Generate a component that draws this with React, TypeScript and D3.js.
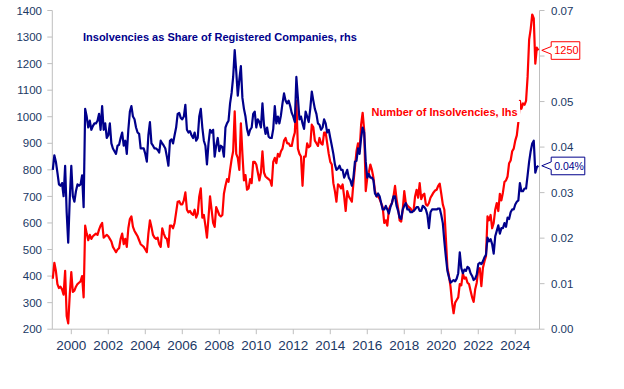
import React from 'react';
import * as d3 from 'd3';

// monthly series, first value = Jan 1999
const startYear = 1999;

// Number of insolvencies (lhs)
const insolvencies = [
  390, 450, 420, 370, 355, 360, 350, 330, 420, 250, 222, 330, // 1999
  415, 340, 345, 360, 370, 375, 380, 400, 320, 590, 560, 535, // 2000
  555, 540, 550, 555, 560, 555, 575, 590, 600, 545, 550, 555, // 2001
  550, 540, 530, 510, 500, 490, 500, 505, 540, 560, 520, 540, // 2002
  510, 580, 615, 625, 585, 570, 560, 550, 535, 520, 515, 510, // 2003
  500, 490, 560, 610, 585, 555, 545, 540, 545, 520, 510, 580, // 2004
  560, 545, 540, 510, 590, 590, 580, 600, 640, 680, 682, 670, // 2005
  670, 685, 715, 650, 640, 645, 635, 630, 650, 620, 635, 700, // 2006
  730, 620, 630, 590, 545, 620, 700, 650, 600, 585, 660, 645, // 2007
  630, 625, 630, 710, 740, 765, 755, 800, 840, 870, 1020, 860, // 2008
  845, 800, 975, 860, 760, 780, 725, 730, 765, 750, 830, 830, // 2009
  820, 790, 760, 790, 870, 790, 775, 770, 765, 760, 740, 830, // 2010
  845, 825, 860, 850, 870, 880, 910, 920, 900, 900, 890, 890, // 2011
  920, 940, 1060, 880, 860, 850, 740, 850, 850, 900, 885, 890, // 2012
  970, 960, 910, 900, 890, 920, 900, 895, 940, 940, 900, 860, // 2013
  830, 820, 750, 720, 680, 745, 740, 730, 745, 700, 645, 720, // 2014
  700, 690, 680, 750, 810, 870, 900, 870, 970, 1015, 950, 720, // 2015
  770, 790, 820, 800, 770, 720, 700, 700, 690, 675, 660, 600, // 2016
  610, 590, 650, 665, 675, 700, 740, 690, 655, 610, 605, 650, // 2017
  720, 675, 665, 660, 655, 645, 645, 700, 725, 695, 750, 690, // 2018
  705, 710, 670, 665, 675, 695, 705, 715, 722, 725, 740, 748, // 2019
  710, 670, 650, 540, 430, 400, 360, 300, 260, 300, 310, 320, // 2020
  370, 365, 410, 390, 395, 375, 370, 345, 320, 303, 350, 375, // 2021
  425, 430, 362, 430, 455, 475, 625, 610, 630, 580, 600, 650, // 2022
  675, 645, 710, 685, 715, 755, 760, 775, 825, 835, 870, 880, // 2023
  910, 930, 980, 1060, 1030, 1050, 1045, 1060, 1150, 1290, 1330, 1385, // 2024
  1370, 1200, 1260, 1250, // 2025
];

// Insolvencies as share of registered companies (rhs)
const share = [
  0.0350, 0.0382, 0.0368, 0.0344, 0.0318, 0.0315, 0.0321, 0.0292, 0.0359, 0.0257, 0.0190, 0.0286, // 1999
  0.0359, 0.0292, 0.0280, 0.0303, 0.0318, 0.0315, 0.0318, 0.0338, 0.0268, 0.0484, 0.0467, 0.0443, // 2000
  0.0458, 0.0438, 0.0446, 0.0452, 0.0452, 0.0458, 0.0473, 0.0438, 0.0490, 0.0438, 0.0452, 0.0420, // 2001
  0.0426, 0.0452, 0.0408, 0.0397, 0.0391, 0.0385, 0.0403, 0.0405, 0.0420, 0.0432, 0.0403, 0.0414, // 2002
  0.0385, 0.0438, 0.0478, 0.0490, 0.0467, 0.0461, 0.0443, 0.0432, 0.0429, 0.0397, 0.0397, 0.0397, // 2003
  0.0385, 0.0368, 0.0426, 0.0455, 0.0408, 0.0403, 0.0397, 0.0397, 0.0394, 0.0388, 0.0414, 0.0408, // 2004
  0.0403, 0.0397, 0.0379, 0.0359, 0.0414, 0.0417, 0.0408, 0.0426, 0.0443, 0.0473, 0.0475, 0.0464, // 2005
  0.0461, 0.0467, 0.0493, 0.0438, 0.0432, 0.0435, 0.0426, 0.0420, 0.0432, 0.0414, 0.0420, 0.0467, // 2006
  0.0484, 0.0443, 0.0414, 0.0403, 0.0362, 0.0408, 0.0438, 0.0432, 0.0438, 0.0379, 0.0403, 0.0420, // 2007
  0.0391, 0.0403, 0.0400, 0.0379, 0.0443, 0.0452, 0.0458, 0.0496, 0.0519, 0.0554, 0.0613, 0.0566, // 2008
  0.0513, 0.0548, 0.0578, 0.0508, 0.0484, 0.0467, 0.0440, 0.0426, 0.0438, 0.0443, 0.0473, 0.0478, // 2009
  0.0443, 0.0461, 0.0455, 0.0443, 0.0496, 0.0449, 0.0429, 0.0443, 0.0423, 0.0420, 0.0420, 0.0440, // 2010
  0.0490, 0.0452, 0.0467, 0.0452, 0.0470, 0.0496, 0.0518, 0.0502, 0.0496, 0.0502, 0.0490, 0.0475, // 2011
  0.0467, 0.0455, 0.0554, 0.0508, 0.0461, 0.0467, 0.0452, 0.0440, 0.0478, 0.0467, 0.0455, 0.0484, // 2012
  0.0522, 0.0502, 0.0484, 0.0473, 0.0452, 0.0449, 0.0438, 0.0443, 0.0461, 0.0452, 0.0432, 0.0438, // 2013
  0.0420, 0.0403, 0.0385, 0.0362, 0.0350, 0.0353, 0.0359, 0.0350, 0.0350, 0.0333, 0.0341, 0.0350, // 2014
  0.0333, 0.0327, 0.0315, 0.0333, 0.0368, 0.0370, 0.0397, 0.0385, 0.0420, 0.0443, 0.0432, 0.0368, // 2015
  0.0333, 0.0341, 0.0333, 0.0333, 0.0327, 0.0298, 0.0292, 0.0298, 0.0292, 0.0277, 0.0263, 0.0263, // 2016
  0.0271, 0.0263, 0.0254, 0.0268, 0.0277, 0.0292, 0.0292, 0.0271, 0.0260, 0.0245, 0.0242, 0.0263, // 2017
  0.0271, 0.0277, 0.0263, 0.0263, 0.0257, 0.0257, 0.0260, 0.0263, 0.0268, 0.0268, 0.0260, 0.0260, // 2018
  0.0271, 0.0268, 0.0263, 0.0251, 0.0222, 0.0257, 0.0263, 0.0263, 0.0263, 0.0263, 0.0265, 0.0265, // 2019
  0.0251, 0.0233, 0.0193, 0.0158, 0.0128, 0.0114, 0.0102, 0.0105, 0.0108, 0.0105, 0.0111, 0.0123, // 2020
  0.0169, 0.0134, 0.0123, 0.0131, 0.0128, 0.0137, 0.0134, 0.0123, 0.0117, 0.0108, 0.0111, 0.0120, // 2021
  0.0143, 0.0146, 0.0143, 0.0149, 0.0158, 0.0163, 0.0201, 0.0193, 0.0198, 0.0187, 0.0166, 0.0204, // 2022
  0.0216, 0.0228, 0.0210, 0.0222, 0.0222, 0.0233, 0.0225, 0.0245, 0.0242, 0.0257, 0.0263, 0.0263, // 2023
  0.0274, 0.0280, 0.0283, 0.0321, 0.0303, 0.0303, 0.0309, 0.0309, 0.0338, 0.0368, 0.0391, 0.0408, // 2024
  0.0414, 0.0344, 0.0356, 0.0359, // 2025
];

const yearTicks = [2000, 2002, 2004, 2006, 2008, 2010, 2012, 2014, 2016, 2018, 2020, 2022, 2024];
const leftTicks = [200, 300, 400, 500, 600, 700, 800, 900, 1000, 1100, 1200, 1300, 1400];
const rightTicks = [0, 0.01, 0.02, 0.03, 0.04, 0.05, 0.06, 0.07];

const RED = '#FF0000';
const NAVY = '#00008B';
const TICK_TEXT = '#203864';
const AXIS = '#BFBFBF';
const FONT = '"Liberation Sans", Arial, sans-serif';

const W = 624;
const H = 389;
const left = 52.3;
const right = 539.5;
const top = 10.5;
const bottom = 329.2;

const x = d3.scaleLinear().domain([1998.973, 2025.31]).range([left, right]);
const yL = d3.scaleLinear().domain([200, 1400]).range([bottom, top]);
const yR = d3.scaleLinear().domain([0, 0.07]).range([bottom, top]);
const t = (i: number) => startYear + i / 12;

const redPath = d3.line<number>().x((d, i) => x(t(i))).y(d => yL(d))(insolvencies) || '';
const bluePath = d3.line<number>().x((d, i) => x(t(i))).y(d => yR(d))(share) || '';

const lastRed = insolvencies[insolvencies.length - 1];
const lastShare = share[share.length - 1];
const tipX = x(t(insolvencies.length - 1)) + 3.4;
const calloutYs = [yL(lastRed), yR(lastShare)];

// callout box pointing at the last value
const Callout = ({ tipY, w, color, label, size }:
  { tipY: number; w: number; color: string; label: string; size: number }) => {
  const bx = tipX + 9.4;
  const y0 = tipY - 8.6;
  const y1 = tipY + 9;
  const d = `M${bx},${y0}H${bx + w}V${y1}H${bx}V${tipY + 3.8}L${tipX},${tipY}L${bx},${tipY - 3.8}Z`;
  return (
    <g>
      <path d={d} fill="#fff" stroke={color} strokeWidth={1} />
      <text x={bx + 3} y={tipY} dy="0.36em" fill={color} fontSize={size} fontFamily={FONT}>{label}</text>
    </g>
  );
};

export default function App() {
  return (
    <svg width={W} height={H} style={{ position: 'absolute', left: 0, top: 0, background: '#fff' }}>
      {/* axes */}
      <line x1={left} x2={left} y1={top} y2={bottom} stroke={AXIS} />
      <line x1={right} x2={right} y1={top} y2={bottom} stroke={AXIS} />
      <line x1={left} x2={right} y1={bottom} y2={bottom} stroke={AXIS} />
      {leftTicks.map(v => (
        <g key={'l' + v}>
          <line x1={left - 5} x2={left} y1={yL(v)} y2={yL(v)} stroke={AXIS} />
          <text x={42} y={yL(v)} dy="0.36em" textAnchor="end" fontSize={11.5} fill={TICK_TEXT} fontFamily={FONT}>{v}</text>
        </g>
      ))}
      {rightTicks.map(v => (
        <g key={'r' + v}>
          <line x1={right} x2={right + 5} y1={yR(v)} y2={yR(v)} stroke={AXIS} />
          {/* labels hidden behind a callout box are not drawn */}
          {calloutYs.every(cy => Math.abs(cy - yR(v)) > 9) && (
            <text x={551} y={yR(v)} dy="0.36em" fontSize={11.5} fill={TICK_TEXT} fontFamily={FONT}>{v.toFixed(2)}</text>
          )}
        </g>
      ))}
      {yearTicks.map(yr => (
        <g key={'x' + yr}>
          <line x1={x(yr)} x2={x(yr)} y1={bottom} y2={bottom + 5} stroke={AXIS} />
          <text x={x(yr)} y={345.5} dy="0.36em" textAnchor="middle" fontSize={13.5} fill={TICK_TEXT} fontFamily={FONT}>{yr}</text>
        </g>
      ))}

      {/* series */}
      <path d={redPath} fill="none" stroke={RED} strokeWidth={2.2} strokeLinejoin="round" />
      <path d={bluePath} fill="none" stroke={NAVY} strokeWidth={2.2} strokeLinejoin="round" />

      {/* labels */}
      <text x={83} y={36.7} dy="0.36em" fontSize={11} fontWeight="bold" fill={NAVY} fontFamily={FONT}>
        Insolvencies as Share of Registered Companies, rhs
      </text>
      <rect x={368} y={101} width={152} height={21} fill="#fff" />
      <text x={371.5} y={111.7} dy="0.36em" fontSize={11} fontWeight="bold" fill={RED} fontFamily={FONT}>
        Number of Insolvencies, lhs
      </text>

      <Callout tipY={yL(lastRed)} w={28.6} color={RED} label={String(lastRed)} size={11} />
      <Callout tipY={yR(lastShare)} w={33.6} color={NAVY} label={lastShare.toFixed(2) + '%'} size={10.5} />
    </svg>
  );
}
